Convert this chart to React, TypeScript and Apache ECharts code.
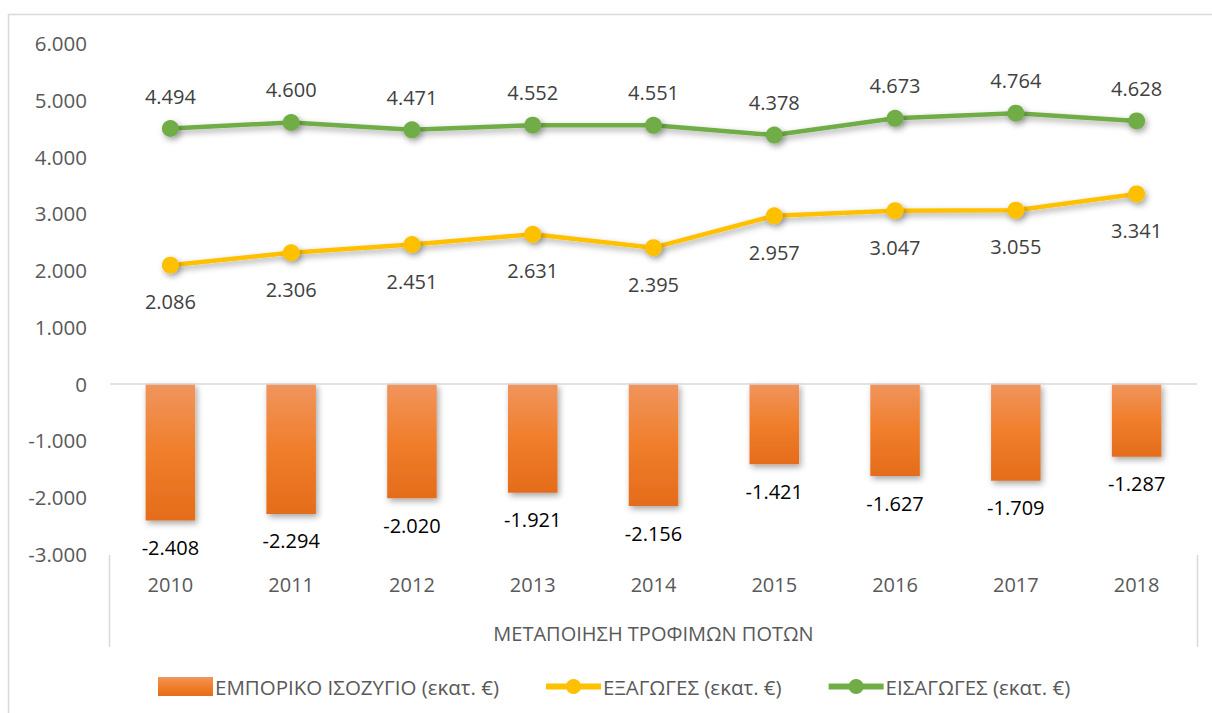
import React, { useEffect, useRef } from "react";
import * as echarts from "echarts";

const years = ["2010", "2011", "2012", "2013", "2014", "2015", "2016", "2017", "2018"];
const balance = [-2408, -2294, -2020, -1921, -2156, -1421, -1627, -1709, -1287];
const exportsVals = [2086, 2306, 2451, 2631, 2395, 2957, 3047, 3055, 3341];
const importsVals = [4494, 4600, 4471, 4552, 4551, 4378, 4673, 4764, 4628];
const groupLabel = "ΜΕΤΑΠΟΙΗΣΗ ΤΡΟΦΙΜΩΝ ΠΟΤΩΝ";
const seriesNames = ["ΕΜΠΟΡΙΚΟ ΙΣΟΖΥΓΙΟ (εκατ. €)", "ΕΞΑΓΩΓΕΣ (εκατ. €)", "ΕΙΣΑΓΩΓΕΣ (εκατ. €)"];

const fmt = (v: number) => {
  const neg = v < 0;
  const s = String(Math.abs(Math.round(v)));
  const out = s.replace(/\B(?=(\d{3})+(?!\d))/g, ".");
  return (neg ? "-" : "") + out;
};

const FONT = "'Open Sans', 'Noto Sans', sans-serif";

export default function App() {
  const ref = useRef<HTMLDivElement>(null);
  useEffect(() => {
    if (!ref.current) return;
    const chart = echarts.init(ref.current, null, { renderer: "svg" });
    const gridLeft = 110;
    const gridRight = 15;
    const W = 1212;
    const shadow = {
      shadowColor: "rgba(0,0,0,0.35)",
      shadowBlur: 6,
      shadowOffsetX: 2,
      shadowOffsetY: 3,
    };
    chart.setOption({
      animation: false,
      textStyle: { fontFamily: FONT },
      grid: { left: gridLeft, right: gridRight, top: 43, bottom: 159, containLabel: false },
      xAxis: {
        type: "category",
        data: years,
        axisLine: { show: false, onZero: false },
        axisTick: { show: false },
        axisLabel: { color: "#595959", fontSize: 20, margin: 20, fontFamily: FONT },
        splitLine: { show: false },
      },
      yAxis: {
        type: "value",
        min: -3000,
        max: 6000,
        interval: 1000,
        axisLine: { show: false },
        axisTick: { show: false },
        splitLine: { show: false },
        axisLabel: {
          color: "#595959",
          fontSize: 20.5,
          margin: 23,
          fontFamily: FONT,
          formatter: (v: number) => fmt(v),
        },
      },
      legend: {
        top: 671,
        left: 153,
        itemGap: 44,
        itemWidth: 55,
        itemHeight: 19,
        textStyle: { color: "#595959", fontSize: 20.5, fontFamily: FONT, padding: [0, 0, 0, -3] },
        data: [
          { name: seriesNames[0], icon: "rect" },
          { name: seriesNames[1], lineStyle: { width: 6 } },
          { name: seriesNames[2], lineStyle: { width: 6 } },
        ],
      },
      graphic: [
        {
          type: "rect",
          shape: { x: 8.5, y: 14.5, width: 1215, height: 720 },
          style: { fill: "none", stroke: "#d9d9d9", lineWidth: 1.5 },
          silent: true,
        },
        {
          type: "line",
          shape: { x1: gridLeft - 0.5, y1: 555, x2: gridLeft - 0.5, y2: 647 },
          style: { stroke: "#d9d9d9", lineWidth: 1.5 },
          silent: true,
        },
        {
          type: "line",
          shape: { x1: W - gridRight + 0.5, y1: 555, x2: W - gridRight + 0.5, y2: 647 },
          style: { stroke: "#d9d9d9", lineWidth: 1.5 },
          silent: true,
        },
        {
          type: "text",
          x: (gridLeft + W - gridRight) / 2,
          y: 633,
          style: {
            text: groupLabel,
            fill: "#595959",
            font: `20px ${FONT}`,
            align: "center",
            verticalAlign: "middle",
          },
          silent: true,
        },
      ],
      series: [
        {
          name: seriesNames[0],
          type: "bar",
          data: balance,
          barWidth: "41%",
          itemStyle: {
            color: new echarts.graphic.LinearGradient(0, 0, 0, 1, [
              { offset: 0, color: "#F0955E" },
              { offset: 0.5, color: "#F07E2B" },
              { offset: 1, color: "#E46C1A" },
            ]),
            ...shadow,
          },
          label: {
            show: true,
            position: "bottom",
            distance: 17,
            color: "#000000",
            fontSize: 20,
            fontFamily: FONT,
            formatter: (p: any) => fmt(p.value),
          },
          markLine: {
            silent: true,
            symbol: "none",
            label: { show: false },
            lineStyle: { color: "#d9d9d9", type: "solid", width: 1.5 },
            data: [{ yAxis: 0 }],
          },
          z: 2,
        },
        {
          name: seriesNames[1],
          type: "line",
          data: exportsVals,
          symbol: "circle",
          symbolSize: 17,
          color: "#FFC000",
          lineStyle: { color: "#FFC000", width: 4.5, ...shadow },
          itemStyle: { color: "#FFC000", ...shadow },
          label: {
            show: true,
            position: "bottom",
            distance: 18,
            color: "#404040",
            fontSize: 20,
            fontFamily: FONT,
            formatter: (p: any) => fmt(p.value),
          },
          z: 3,
        },
        {
          name: seriesNames[2],
          type: "line",
          data: importsVals,
          symbol: "circle",
          symbolSize: 17,
          color: "#70AD47",
          lineStyle: { color: "#70AD47", width: 4.5, ...shadow },
          itemStyle: { color: "#70AD47", ...shadow },
          label: {
            show: true,
            position: "top",
            distance: 14,
            color: "#404040",
            fontSize: 20,
            fontFamily: FONT,
            formatter: (p: any) => fmt(p.value),
          },
          z: 4,
        },
      ],
    });
    return () => chart.dispose();
  }, []);
  return (
    <div
      ref={ref}
      style={{ position: "absolute", left: 0, top: 0, width: 1212, height: 713, background: "#ffffff" }}
    />
  );
}
